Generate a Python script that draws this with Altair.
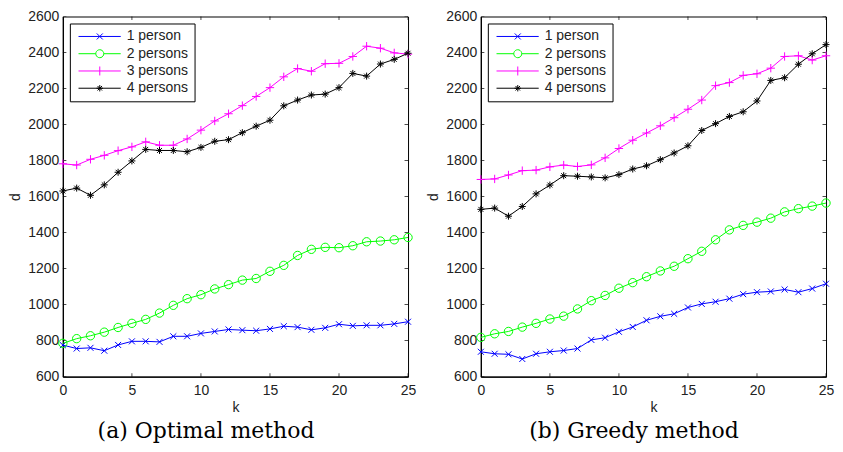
import math
import altair as alt
import pandas as pd

k_values = list(range(26))
series_names = ["1 person", "2 persons", "3 persons", "4 persons"]
series_colors = ["#0000ff", "#00ff00", "#ff00ff", "#000000"]

opt_1 = [775, 756, 760, 744, 776, 796, 796, 793, 824, 824, 840, 851, 862, 858, 855, 865, 880, 875, 860, 871, 891, 882, 885, 885, 893, 905]
opt_2 = [785, 811, 827, 847, 873, 896, 918, 953, 996, 1033, 1055, 1087, 1111, 1136, 1145, 1185, 1218, 1273, 1307, 1318, 1316, 1327, 1349, 1353, 1360, 1373]
opt_3 = [1782, 1775, 1807, 1829, 1855, 1876, 1904, 1885, 1885, 1920, 1969, 2020, 2060, 2105, 2156, 2205, 2265, 2311, 2296, 2338, 2340, 2378, 2435, 2424, 2398, 2391]
opt_4 = [1631, 1647, 1607, 1665, 1735, 1798, 1862, 1856, 1856, 1849, 1873, 1907, 1916, 1955, 1991, 2024, 2104, 2136, 2164, 2169, 2205, 2284, 2269, 2336, 2362, 2396]

gr_1 = [738, 727, 724, 698, 727, 738, 745, 756, 804, 816, 849, 876, 913, 935, 949, 984, 1004, 1016, 1033, 1058, 1069, 1073, 1084, 1069, 1089, 1116]
gr_2 = [818, 838, 851, 875, 896, 920, 936, 976, 1022, 1051, 1091, 1122, 1155, 1187, 1213, 1255, 1296, 1360, 1415, 1440, 1458, 1480, 1515, 1533, 1547, 1564]
gr_3 = [1695, 1698, 1720, 1744, 1747, 1765, 1775, 1767, 1776, 1815, 1867, 1913, 1953, 1993, 2038, 2085, 2136, 2216, 2233, 2273, 2282, 2313, 2378, 2382, 2358, 2382]
gr_4 = [1529, 1536, 1491, 1545, 1615, 1664, 1716, 1713, 1709, 1704, 1722, 1753, 1771, 1805, 1842, 1882, 1967, 2005, 2045, 2071, 2131, 2245, 2260, 2335, 2393, 2444]

x_ticks = [0, 5, 10, 15, 20, 25]
y_ticks = [600, 800, 1000, 1200, 1400, 1600, 1800, 2000, 2200, 2400, 2600]

captions = ["(a) Optimal method", "(b) Greedy method"]

SANS = "Liberation Sans"
INK = "#222222"


def ring(cx, r, n=20):
    pts = [(cx + r * math.cos(2 * math.pi * i / n), r * math.sin(2 * math.pi * i / n)) for i in range(n)]
    return "M" + "L".join(f"{x:.3f},{y:.3f}" for x, y in pts) + "Z"


marker_paths = [
    "M-1,-1L1,1M-1,1L1,-1",
    "circle",
    "M-1,0L1,0M0,-1L0,1",
    "M-1,0L1,0M0,-1L0,1M-0.7,-0.7L0.7,0.7M-0.7,0.7L0.7,-0.7",
]
marker_sizes = [36, 70, 70, 49]

# legend glyphs: line sample with the marker in its middle (anchor near the left end)
legend_paths = [
    "M-2.15,0L19,0M7,-1.5L10,1.5M7,1.5L10,-1.5",
    "M-2.15,0L6.5,0M10.5,0L19,0" + ring(8.5, 2),
    "M-2.15,0L19,0M8.5,-2.25L8.5,2.25",
    "M-2.15,0L19,0M8.5,-1.6L8.5,1.6M6.9,0L10.1,0M7.37,-1.13L9.63,1.13M7.37,1.13L9.63,-1.13",
]


def make_df(cols):
    rows = []
    for name, vals in zip(series_names, cols):
        for kk, v in zip(k_values, vals):
            rows.append({"k": kk, "d": v, "series": name})
    return pd.DataFrame(rows)


def panel(cols, caption, dx):
    df = make_df(cols)
    xs = alt.Scale(domain=[x_ticks[0], x_ticks[-1]], nice=False)
    ys = alt.Scale(domain=[y_ticks[0], y_ticks[-1]], nice=False, zero=False)
    x_axis = alt.Axis(values=x_ticks, tickSize=0, labelPadding=7, format="d",
                      titlePadding=3, grid=False, labelFlush=False,
                      labelFont=SANS, labelFontSize=14, labelColor=INK,
                      titleFont=SANS, titleFontSize=14, titleFontWeight="normal",
                      titleColor=INK, domainColor="black", domainWidth=1.3)
    y_axis = alt.Axis(values=y_ticks, tickSize=0, labelPadding=4, format="d",
                      titlePadding=5, grid=False, labelFlush=False,
                      labelFont=SANS, labelFontSize=14, labelColor=INK,
                      titleFont=SANS, titleFontSize=14, titleFontWeight="normal",
                      titleColor=INK, domainColor="black", domainWidth=1.3)
    x_enc = alt.X("k:Q", scale=xs, title="k", axis=x_axis)
    y_enc = alt.Y("d:Q", scale=ys, title="d", axis=y_axis)
    cscale = alt.Scale(domain=series_names, range=series_colors)

    nx, ny = len(x_ticks), len(y_ticks)
    bottom_df = pd.DataFrame({"k": x_ticks, "d": [y_ticks[0]] * nx})
    top_df = pd.DataFrame({"k": x_ticks, "d": [y_ticks[-1]] * nx})
    left_df = pd.DataFrame({"k": [x_ticks[0]] * ny, "d": y_ticks})
    right_df = pd.DataFrame({"k": [x_ticks[-1]] * ny, "d": y_ticks})
    tick_v = dict(orient="vertical", size=7, thickness=1, color="black", clip=True)
    tick_h = dict(orient="horizontal", size=7, thickness=1, color="black", clip=True)
    layers = [
        alt.Chart(bottom_df).mark_tick(**tick_v).encode(x=x_enc, y=y_enc),
        alt.Chart(top_df).mark_tick(**tick_v).encode(x=x_enc, y=y_enc),
        alt.Chart(left_df).mark_tick(**tick_h).encode(x=x_enc, y=y_enc),
        alt.Chart(right_df).mark_tick(**tick_h).encode(x=x_enc, y=y_enc),
    ]

    base = alt.Chart(df)
    for name, col, mp, ms in zip(series_names, series_colors, marker_paths, marker_sizes):
        sub = base.transform_filter(alt.datum.series == name)
        layers.append(sub.mark_line(strokeWidth=1, color=col).encode(x=x_enc, y=y_enc))
        layers.append(sub.mark_point(filled=False, strokeWidth=1, opacity=1, color=col,
                                     shape=mp, size=ms).encode(x=x_enc, y=y_enc))

    leg = alt.Legend(
        title=None, orient="top-left", offset=7, padding=6,
        strokeColor="black", fillColor="white", cornerRadius=0,
        symbolOffset=0, labelOffset=37, labelFont=SANS,
        labelFontSize=14, labelColor=INK, symbolSize=16,
        symbolStrokeWidth=1, symbolOpacity=1, rowPadding=3.3, labelLimit=300,
    )
    legend_layer = base.mark_point(filled=False, strokeWidth=1, size=16, opacity=0).encode(
        x=x_enc, y=y_enc,
        color=alt.Color("series:N", scale=cscale, legend=leg),
        shape=alt.Shape("series:N", scale=alt.Scale(domain=series_names, range=legend_paths), legend=leg),
    ).transform_filter(alt.datum.k == 0)
    layers.append(legend_layer)

    return alt.layer(*layers).properties(
        width=346, height=361,
        title=alt.TitleParams(caption, orient="bottom", font="DejaVu Serif", fontSize=22,
                              fontWeight="normal", color="black", dx=dx, offset=7, anchor="middle"),
    )


left = panel([opt_1, opt_2, opt_3, opt_4], captions[0], -29.5)
right = panel([gr_1, gr_2, gr_3, gr_4], captions[1], -19.5)

chart = alt.hconcat(left, right, spacing=9).resolve_scale(
    color="independent", shape="independent"
).resolve_legend(
    color="independent", shape="independent"
).properties(
    padding={"left": 0, "top": 0, "right": 0, "bottom": 0}
).configure_axis(
    grid=False,
).configure_view(
    stroke="black", strokeWidth=1
)

chart.save("out.html", embed_options={"renderer": "svg", "actions": False})
